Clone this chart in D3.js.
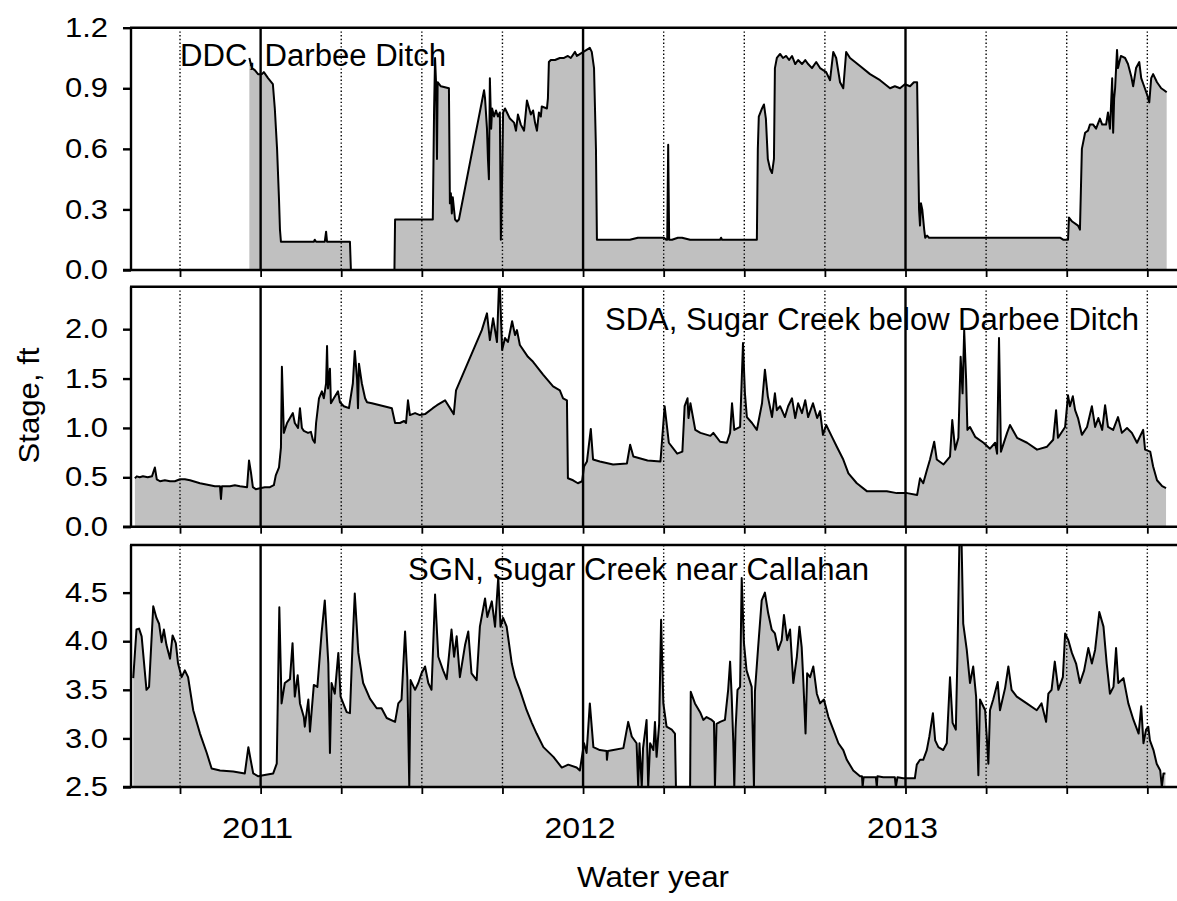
<!DOCTYPE html>
<html>
<head>
<meta charset="utf-8">
<script src="https://cdn.jsdelivr.net/npm/d3@7"></script>
<style>
  html, body { margin: 0; padding: 0; background: #fff; }
  svg { display: block; }
  text { font-family: "Liberation Sans", Arial, sans-serif; fill: #000; }
</style>
</head>
<body>
<svg id="chart" width="1177" height="901"></svg>
<script>
// ---------------- DATA (decimal water-year, stage in ft) ----------------
const panelTitles = ["DDC, Darbee Ditch", "SDA, Sugar Creek below Darbee Ditch", "SGN, Sugar Creek near Callahan"];
const yearLabels = [2011, 2012, 2013];
const quarterTicks = [2010.75, 2011, 2011.25, 2011.5, 2011.75, 2012, 2012.25, 2012.5, 2012.75, 2013, 2013.25, 2013.5, 2013.75];
const ddcTicks = [0.0, 0.3, 0.6, 0.9, 1.2];
const sdaTicks = [0.0, 0.5, 1.0, 1.5, 2.0];
const sgnTicks = [2.5, 3.0, 3.5, 4.0, 4.5];

const ddcStage = [
[2010.965,1.05],[2010.973,1.00],[2010.982,0.99],[2010.992,0.97],[2011.004,0.97],[2011.010,0.98],[2011.023,0.95],
[2011.038,0.92],[2011.044,0.80],[2011.051,0.60],[2011.057,0.35],[2011.060,0.20],[2011.063,0.14],[2011.122,0.14],
[2011.165,0.14],[2011.168,0.15],[2011.172,0.14],[2011.199,0.14],[2011.203,0.19],[2011.206,0.14],[2011.277,0.14],
[2011.280,0],[2011.415,0],[2011.417,0.25],[2011.531,0.25],[2011.534,0.25],[2011.538,0.80],[2011.541,1.05],
[2011.544,0.93],[2011.547,0.55],[2011.549,0.93],[2011.559,0.91],[2011.584,0.90],[2011.587,0.33],[2011.590,0.38],
[2011.593,0.28],[2011.596,0.36],[2011.603,0.25],[2011.609,0.24],[2011.615,0.25],[2011.693,0.89],[2011.696,0.85],
[2011.702,0.70],[2011.705,0.55],[2011.708,0.45],[2011.711,0.95],[2011.715,0.70],[2011.718,0.80],[2011.724,0.76],
[2011.730,0.79],[2011.736,0.76],[2011.742,0.78],[2011.745,0.15],[2011.749,0.45],[2011.752,0.78],[2011.758,0.80],
[2011.764,0.78],[2011.773,0.75],[2011.786,0.73],[2011.792,0.69],[2011.798,0.77],[2011.807,0.72],[2011.817,0.69],
[2011.826,0.84],[2011.838,0.77],[2011.845,0.79],[2011.851,0.73],[2011.857,0.69],[2011.863,0.78],[2011.869,0.76],
[2011.872,0.81],[2011.888,0.80],[2011.891,0.85],[2011.894,1.03],[2011.900,1.04],[2011.913,1.04],[2011.928,1.05],
[2011.941,1.05],[2011.953,1.06],[2011.962,1.05],[2011.975,1.08],[2011.981,1.06],[2012.021,1.10],[2012.027,1.08],
[2012.034,1.00],[2012.040,0.60],[2012.043,0.15],[2012.145,0.15],[2012.170,0.16],[2012.208,0.16],[2012.251,0.16],
[2012.258,0.15],[2012.261,0.15],[2012.264,0.62],[2012.267,0.15],[2012.276,0.15],[2012.294,0.16],[2012.307,0.16],
[2012.332,0.15],[2012.425,0.15],[2012.428,0.16],[2012.431,0.15],[2012.539,0.15],[2012.542,0.60],[2012.545,0.76],
[2012.555,0.80],[2012.561,0.82],[2012.567,0.75],[2012.573,0.55],[2012.580,0.50],[2012.586,0.48],[2012.592,0.55],
[2012.595,1.00],[2012.601,1.05],[2012.611,1.07],[2012.620,1.05],[2012.630,1.06],[2012.639,1.04],[2012.648,1.06],
[2012.658,1.02],[2012.667,1.04],[2012.679,1.02],[2012.689,1.04],[2012.698,1.02],[2012.710,1.00],[2012.723,1.03],
[2012.735,1.00],[2012.754,0.98],[2012.766,0.94],[2012.776,1.08],[2012.785,1.05],[2012.797,0.93],[2012.807,0.90],
[2012.816,1.08],[2012.828,1.05],[2012.859,1.01],[2012.890,0.97],[2012.921,0.94],[2012.952,0.90],[2012.967,0.91],
[2012.983,0.90],[2012.998,0.92],[2013.014,0.91],[2013.026,0.93],[2013.036,0.93],[2013.039,0.60],[2013.042,0.30],
[2013.045,0.22],[2013.048,0.33],[2013.052,0.30],[2013.058,0.20],[2013.061,0.16],[2013.067,0.17],[2013.073,0.16],
[2013.089,0.16],[2013.479,0.16],[2013.489,0.15],[2013.504,0.15],[2013.507,0.26],[2013.517,0.24],[2013.535,0.22],
[2013.541,0.20],[2013.547,0.60],[2013.557,0.68],[2013.566,0.69],[2013.572,0.72],[2013.582,0.72],[2013.591,0.70],
[2013.603,0.75],[2013.610,0.72],[2013.622,0.72],[2013.628,0.78],[2013.634,0.70],[2013.637,0.80],[2013.641,0.95],
[2013.644,0.68],[2013.647,0.85],[2013.650,0.90],[2013.656,1.09],[2013.659,1.00],[2013.668,1.06],[2013.681,1.05],
[2013.690,1.02],[2013.700,0.96],[2013.706,0.91],[2013.715,1.00],[2013.725,1.03],[2013.731,0.95],[2013.740,0.91],
[2013.749,0.87],[2013.756,0.83],[2013.762,0.95],[2013.768,0.97],[2013.780,0.93],[2013.793,0.90],[2013.802,0.89],
[2013.810,0.88]
];

const sdaStage = [
[2010.610,0.49],[2010.616,0.51],[2010.625,0.50],[2010.635,0.51],[2010.650,0.50],[2010.663,0.51],[2010.672,0.60],
[2010.678,0.48],[2010.688,0.46],[2010.703,0.47],[2010.719,0.46],[2010.734,0.46],[2010.750,0.48],[2010.765,0.48],
[2010.781,0.47],[2010.812,0.44],[2010.843,0.42],[2010.858,0.41],[2010.874,0.41],[2010.877,0.28],[2010.880,0.41],
[2010.905,0.41],[2010.920,0.42],[2010.936,0.41],[2010.958,0.40],[2010.964,0.67],[2010.970,0.55],[2010.976,0.40],
[2010.985,0.38],[2010.998,0.39],[2011.013,0.40],[2011.029,0.40],[2011.041,0.42],[2011.047,0.52],[2011.057,0.60],
[2011.063,0.80],[2011.066,1.62],[2011.072,0.95],[2011.082,1.05],[2011.091,1.10],[2011.100,1.15],[2011.106,1.05],
[2011.116,1.00],[2011.122,1.20],[2011.128,1.00],[2011.134,0.97],[2011.147,0.95],[2011.156,0.96],[2011.162,0.88],
[2011.168,0.85],[2011.172,1.05],[2011.181,1.30],[2011.190,1.37],[2011.196,1.30],[2011.203,1.45],[2011.206,1.83],
[2011.209,1.40],[2011.215,1.60],[2011.218,1.25],[2011.227,1.30],[2011.240,1.37],[2011.246,1.26],[2011.258,1.22],
[2011.274,1.20],[2011.286,1.45],[2011.292,1.78],[2011.299,1.50],[2011.302,1.20],[2011.305,1.65],[2011.314,1.45],
[2011.324,1.30],[2011.330,1.26],[2011.345,1.25],[2011.370,1.23],[2011.395,1.21],[2011.407,1.20],[2011.417,1.05],
[2011.432,1.05],[2011.445,1.07],[2011.451,1.05],[2011.457,1.28],[2011.463,1.13],[2011.479,1.15],[2011.494,1.13],
[2011.510,1.14],[2011.534,1.20],[2011.547,1.23],[2011.572,1.28],[2011.599,1.14],[2011.606,1.38],[2011.686,1.99],
[2011.702,2.16],[2011.711,1.89],[2011.721,2.11],[2011.733,1.87],[2011.739,2.43],[2011.742,2.43],[2011.749,1.79],
[2011.758,1.91],[2011.767,1.87],[2011.780,2.08],[2011.789,1.94],[2011.795,1.99],[2011.804,1.84],[2011.829,1.72],
[2011.845,1.67],[2011.876,1.54],[2011.907,1.42],[2011.928,1.38],[2011.938,1.30],[2011.950,1.28],[2011.953,0.49],
[2011.969,0.47],[2011.984,0.44],[2011.997,0.46],[2012.003,0.61],[2012.012,0.66],[2012.024,0.99],[2012.031,0.68],
[2012.052,0.66],[2012.093,0.63],[2012.136,0.64],[2012.146,0.83],[2012.156,0.71],[2012.200,0.67],[2012.240,0.66],
[2012.253,1.22],[2012.266,0.85],[2012.292,0.74],[2012.308,0.76],[2012.315,1.22],[2012.324,1.30],[2012.327,1.10],
[2012.333,1.25],[2012.348,0.98],[2012.364,0.95],[2012.395,0.92],[2012.404,0.95],[2012.425,0.86],[2012.446,0.85],
[2012.456,0.95],[2012.462,1.25],[2012.469,0.98],[2012.487,1.01],[2012.496,1.86],[2012.502,1.35],[2012.508,1.11],
[2012.524,1.05],[2012.539,0.98],[2012.555,1.25],[2012.564,1.59],[2012.573,1.32],[2012.586,1.11],[2012.595,1.35],
[2012.601,1.18],[2012.611,1.22],[2012.626,1.11],[2012.636,1.22],[2012.648,1.30],[2012.658,1.10],[2012.667,1.25],
[2012.679,1.15],[2012.689,1.28],[2012.698,1.11],[2012.713,1.25],[2012.726,1.10],[2012.735,1.17],[2012.744,0.93],
[2012.754,1.03],[2012.772,0.91],[2012.787,0.81],[2012.807,0.68],[2012.823,0.54],[2012.849,0.44],[2012.880,0.36],
[2012.911,0.36],[2012.942,0.36],[2012.973,0.34],[2013.005,0.34],[2013.036,0.32],[2013.045,0.49],[2013.055,0.44],
[2013.066,0.57],[2013.076,0.68],[2013.089,0.86],[2013.097,0.68],[2013.118,0.63],[2013.138,0.71],[2013.145,1.08],
[2013.154,0.78],[2013.164,0.90],[2013.171,1.72],[2013.177,1.35],[2013.182,1.99],[2013.188,1.49],[2013.192,0.98],
[2013.200,1.01],[2013.216,0.91],[2013.242,0.85],[2013.262,0.79],[2013.278,0.85],[2013.284,0.74],[2013.290,1.91],
[2013.296,0.76],[2013.315,0.95],[2013.324,1.03],[2013.346,0.90],[2013.377,0.85],[2013.408,0.78],[2013.439,0.81],
[2013.458,0.88],[2013.467,1.18],[2013.473,0.90],[2013.495,1.01],[2013.504,1.33],[2013.510,1.22],[2013.519,1.32],
[2013.526,1.18],[2013.535,1.10],[2013.547,0.93],[2013.563,1.01],[2013.578,1.22],[2013.588,1.01],[2013.598,1.10],
[2013.610,0.98],[2013.619,1.23],[2013.628,1.01],[2013.644,0.98],[2013.659,1.11],[2013.671,0.95],[2013.687,1.00],
[2013.702,0.95],[2013.718,0.85],[2013.737,0.98],[2013.743,0.78],[2013.759,0.76],[2013.768,0.61],[2013.780,0.47],
[2013.796,0.41],[2013.808,0.39]
];

const sgnStage = [
[2010.605,3.62],[2010.615,4.12],[2010.623,4.13],[2010.631,4.05],[2010.646,3.50],[2010.654,3.53],[2010.667,4.36],
[2010.677,4.24],[2010.685,4.18],[2010.693,3.99],[2010.700,4.12],[2010.708,3.96],[2010.719,3.82],[2010.727,4.06],
[2010.737,3.98],[2010.744,3.77],[2010.755,3.63],[2010.765,3.70],[2010.775,3.63],[2010.791,3.29],[2010.812,3.05],
[2010.833,2.85],[2010.848,2.69],[2010.874,2.67],[2010.915,2.66],[2010.951,2.64],[2010.962,2.91],[2010.969,2.78],
[2010.977,2.64],[2010.993,2.61],[2011.008,2.62],[2011.039,2.64],[2011.050,2.74],[2011.058,4.35],[2011.065,3.36],
[2011.075,3.57],[2011.091,3.61],[2011.099,3.98],[2011.106,3.43],[2011.115,3.65],[2011.122,3.36],[2011.134,3.22],
[2011.137,3.12],[2011.148,3.40],[2011.153,3.07],[2011.165,3.55],[2011.176,3.53],[2011.189,4.08],[2011.199,4.42],
[2011.210,3.77],[2011.215,2.85],[2011.220,3.57],[2011.230,3.46],[2011.241,3.88],[2011.248,3.43],[2011.267,3.27],
[2011.277,3.26],[2011.285,3.96],[2011.292,4.49],[2011.303,3.88],[2011.318,3.57],[2011.339,3.41],[2011.360,3.31],
[2011.375,3.31],[2011.391,3.21],[2011.417,3.17],[2011.427,3.36],[2011.437,3.40],[2011.448,4.10],[2011.455,3.63],
[2011.461,2.50],[2011.465,3.60],[2011.479,3.50],[2011.489,3.57],[2011.499,3.67],[2011.510,3.74],[2011.520,3.57],
[2011.530,3.50],[2011.541,4.48],[2011.551,3.84],[2011.566,3.70],[2011.577,3.61],[2011.592,4.12],[2011.600,3.84],
[2011.608,4.05],[2011.618,3.63],[2011.634,3.96],[2011.644,4.10],[2011.654,3.67],[2011.670,3.60],[2011.680,4.15],
[2011.696,4.44],[2011.703,4.25],[2011.717,4.41],[2011.727,4.15],[2011.737,4.66],[2011.744,4.15],[2011.752,4.24],
[2011.763,4.15],[2011.779,3.77],[2011.789,3.63],[2011.804,3.50],[2011.825,3.29],[2011.841,3.16],[2011.856,3.05],
[2011.877,2.91],[2011.908,2.81],[2011.934,2.70],[2011.954,2.73],[2011.980,2.70],[2011.990,2.67],[2012.003,2.95],
[2012.011,2.85],[2012.021,3.36],[2012.032,2.91],[2012.052,2.88],[2012.073,2.87],[2012.074,2.78],[2012.077,2.87],
[2012.094,2.88],[2012.125,2.90],[2012.140,3.17],[2012.151,3.02],[2012.166,2.95],[2012.171,2.50],[2012.175,2.95],
[2012.182,2.50],[2012.186,2.90],[2012.197,3.19],[2012.202,2.50],[2012.208,2.95],[2012.218,2.88],[2012.223,3.17],
[2012.228,2.81],[2012.236,3.15],[2012.242,4.22],[2012.249,3.36],[2012.259,3.12],[2012.275,3.09],[2012.285,3.05],
[2012.288,2.50],[2012.332,2.50],[2012.334,3.48],[2012.347,3.36],[2012.363,3.27],[2012.373,3.19],[2012.383,3.22],
[2012.399,3.19],[2012.406,3.17],[2012.409,2.50],[2012.414,3.15],[2012.425,3.17],[2012.440,3.19],[2012.450,3.50],
[2012.456,3.79],[2012.461,3.43],[2012.466,2.95],[2012.469,2.50],[2012.473,3.10],[2012.479,3.50],[2012.487,3.53],
[2012.492,4.65],[2012.499,3.98],[2012.507,3.70],[2012.523,3.53],[2012.530,2.50],[2012.533,3.48],[2012.543,3.94],
[2012.554,4.42],[2012.564,4.50],[2012.574,4.29],[2012.585,4.12],[2012.595,4.08],[2012.605,3.91],[2012.616,4.01],
[2012.623,4.27],[2012.633,4.01],[2012.642,4.12],[2012.652,3.57],[2012.663,3.84],[2012.671,4.15],[2012.678,3.94],
[2012.683,3.60],[2012.690,3.05],[2012.695,3.67],[2012.704,3.63],[2012.714,3.74],[2012.725,3.46],[2012.735,3.36],
[2012.747,3.40],[2012.761,3.22],[2012.776,3.09],[2012.792,2.95],[2012.807,2.88],[2012.818,2.78],[2012.838,2.67],
[2012.859,2.61],[2012.865,2.61],[2012.867,2.50],[2012.870,2.60],[2012.908,2.60],[2012.911,2.50],[2012.913,2.61],
[2012.931,2.60],[2012.967,2.60],[2012.970,2.50],[2012.975,2.60],[2012.993,2.59],[2013.029,2.59],[2013.035,2.73],
[2013.045,2.78],[2013.055,2.78],[2013.066,2.88],[2013.074,3.02],[2013.085,3.26],[2013.092,2.98],[2013.102,2.91],
[2013.117,2.88],[2013.128,2.95],[2013.138,3.63],[2013.146,3.16],[2013.156,3.09],[2013.161,3.84],[2013.167,5.00],
[2013.174,5.00],[2013.179,4.18],[2013.190,3.91],[2013.200,3.57],[2013.210,3.74],[2013.219,3.43],[2013.226,2.62],
[2013.231,3.40],[2013.247,3.29],[2013.257,2.74],[2013.262,3.29],[2013.272,3.40],[2013.286,3.58],[2013.293,3.29],
[2013.309,3.52],[2013.319,3.74],[2013.329,3.50],[2013.345,3.43],[2013.376,3.36],[2013.407,3.29],[2013.422,3.36],
[2013.436,3.17],[2013.443,3.46],[2013.453,3.50],[2013.463,3.79],[2013.474,3.50],[2013.488,3.63],[2013.495,4.08],
[2013.505,4.01],[2013.516,3.88],[2013.529,3.77],[2013.541,3.57],[2013.554,3.70],[2013.567,3.93],[2013.578,3.77],
[2013.588,3.91],[2013.601,4.30],[2013.614,4.15],[2013.624,3.77],[2013.634,3.46],[2013.645,3.53],[2013.653,3.93],
[2013.660,3.57],[2013.676,3.62],[2013.691,3.36],[2013.707,3.19],[2013.723,3.05],[2013.731,3.33],[2013.738,2.95],
[2013.746,3.09],[2013.753,3.12],[2013.758,2.98],[2013.769,2.88],[2013.779,2.74],[2013.790,2.67],[2013.795,2.50],
[2013.800,2.64],[2013.806,2.64]
];

// ---------------- LAYOUT ----------------
const W = 1177, H = 901;
const plotLeft = 131, plotRight = 1177;
const svg = d3.select("#chart");
const FONT = '"Liberation Sans", Arial, sans-serif';

const x = d3.scaleLinear().domain([2010.598, 2013.842]).range([plotLeft, plotRight]);

const panels = [
  { data: ddcStage, domain: [0, 1.2], top: 27.7, bottom: 270, ticks: ddcTicks, fmt: d3.format(".1f"),
    title: panelTitles[0], tx: 180, ty: 66, tlen: 266 },
  { data: sdaStage, domain: [0, 2.43], top: 286.7, bottom: 526.7, ticks: sdaTicks, fmt: d3.format(".1f"),
    title: panelTitles[1], tx: 605, ty: 330, tlen: 534 },
  { data: sgnStage, domain: [2.5, 4.99], top: 545, bottom: 787, ticks: sgnTicks, fmt: d3.format(".1f"),
    title: panelTitles[2], tx: 408, ty: 580, tlen: 461 }
];

const dottedQuarters = quarterTicks.filter(d => !Number.isInteger(d));
const solidYears = quarterTicks.filter(d => Number.isInteger(d));

panels.forEach((p, i) => {
  const y = d3.scaleLinear().domain(p.domain).range([p.bottom, p.top]);
  const g = svg.append("g");
  const clipId = "clip" + i;
  svg.append("defs").append("clipPath").attr("id", clipId)
    .append("rect").attr("x", plotLeft).attr("y", p.top).attr("width", plotRight - plotLeft).attr("height", p.bottom - p.top);

  const inner = g.append("g").attr("clip-path", `url(#${clipId})`);

  const area = d3.area().x(d => x(d[0])).y0(p.bottom).y1(d => y(d[1]));
  const line = d3.line().x(d => x(d[0])).y(d => y(d[1]));

  inner.append("path").datum(p.data).attr("d", area).attr("fill", "#c0c0c0").attr("stroke", "none");

  inner.selectAll(".dq").data(dottedQuarters).enter().append("line")
    .attr("x1", d => x(d)).attr("x2", d => x(d)).attr("y1", p.top).attr("y2", p.bottom)
    .attr("stroke", "#000").attr("stroke-width", 1.4).attr("stroke-dasharray", "1.4,2.3");
  inner.selectAll(".sy").data(solidYears).enter().append("line")
    .attr("x1", d => x(d)).attr("x2", d => x(d)).attr("y1", p.top).attr("y2", p.bottom)
    .attr("stroke", "#000").attr("stroke-width", 2.4);

  inner.append("path").datum(p.data).attr("d", line).attr("fill", "none")
    .attr("stroke", "#000").attr("stroke-width", 2).attr("stroke-linejoin", "round");

  g.append("line").attr("x1", plotLeft).attr("x2", plotLeft).attr("y1", p.top).attr("y2", p.bottom)
    .attr("stroke", "#000").attr("stroke-width", 2.4);
  g.append("line").attr("x1", plotLeft - 1).attr("x2", W).attr("y1", p.top).attr("y2", p.top)
    .attr("stroke", "#000").attr("stroke-width", 2.4);

  const xAxis = d3.axisBottom(x).tickValues(quarterTicks).tickSize(7).tickSizeOuter(0).tickFormat("");
  const ax = g.append("g").attr("transform", `translate(0,${p.bottom})`).call(xAxis);
  ax.select(".domain").attr("d", `M${plotLeft - 8},0H${W}`).attr("stroke", "#000").attr("stroke-width", 2.4);
  ax.selectAll(".tick line").attr("stroke", "#000").attr("stroke-width", 1.8);

  const yAxis = d3.axisLeft(y).tickValues(p.ticks).tickSize(8).tickSizeOuter(0).tickPadding(15).tickFormat(p.fmt);
  const ay = g.append("g").attr("transform", `translate(${plotLeft},0)`).call(yAxis);
  ay.select(".domain").remove();
  ay.selectAll(".tick line").attr("stroke", "#000").attr("stroke-width", 2.4);
  ay.selectAll(".tick text").attr("font-family", FONT).attr("font-size", 27).attr("fill", "#000")
    .attr("textLength", 43).attr("lengthAdjust", "spacingAndGlyphs");

  g.append("text").attr("x", p.tx).attr("y", p.ty)
    .attr("font-family", FONT).attr("font-size", 31)
    .attr("textLength", p.tlen).attr("lengthAdjust", "spacingAndGlyphs")
    .text(p.title);
});

svg.append("g").selectAll("text").data(yearLabels).enter().append("text")
  .attr("x", d => x(d) - 3).attr("y", 838)
  .attr("text-anchor", "middle").attr("font-family", FONT).attr("font-size", 30)
  .attr("textLength", 71).attr("lengthAdjust", "spacingAndGlyphs")
  .text(d => d);

svg.append("text").attr("x", 653).attr("y", 887).attr("text-anchor", "middle")
  .attr("font-family", FONT).attr("font-size", 30)
  .attr("textLength", 152).attr("lengthAdjust", "spacingAndGlyphs").text("Water year");
svg.append("text").attr("transform", "translate(38.5,405.5) rotate(-90)").attr("text-anchor", "middle")
  .attr("font-family", FONT).attr("font-size", 30)
  .attr("textLength", 116).attr("lengthAdjust", "spacingAndGlyphs").text("Stage, ft");
</script>
</body>
</html>
